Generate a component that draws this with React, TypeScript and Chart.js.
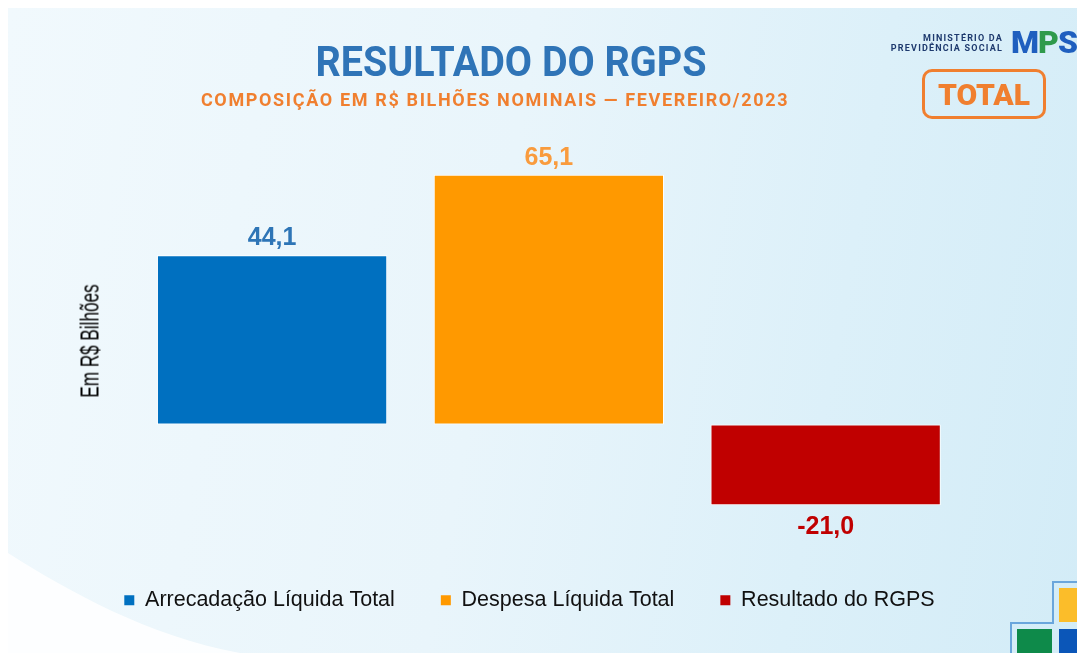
import React, { useEffect, useRef } from "react";
import { Chart, registerables } from "chart.js";

Chart.register(...registerables);

// ---- data ----
const seriesNames = ["Arrecadação Líquida Total", "Despesa Líquida Total", "Resultado do RGPS"];
const seriesValues = [44.1, 65.1, -21.0];
const seriesPositions = [0, 1, 2];
const barColors = ["#0070c0", "#ff9900", "#c00000"];
const labelColors = ["#2e75b6", "#f99b3d", "#c00000"];
const titleText = "RESULTADO DO RGPS";
const subtitleText = "COMPOSIÇÃO EM R$ BILHÕES NOMINAIS — FEVEREIRO/2023";
const yAxisTitle = "Em R$ Bilhões";
const badgeText = "TOTAL";
const logoLines = ["MINISTÉRIO DA", "PREVIDÊNCIA SOCIAL"];

const fmt = (v: number) => v.toFixed(1).replace(".", ",");

const SANS = '"Liberation Sans", Arial, sans-serif';

const valueLabels = {
  id: "valueLabels",
  afterDatasetsDraw(chart: any) {
    const ctx = chart.ctx;
    ctx.save();
    ctx.font = `bold 25px ${SANS}`;
    ctx.textAlign = "center";
    ctx.textBaseline = "alphabetic";
    const meta = chart.getDatasetMeta(0);
    const ds = chart.data.datasets[0];
    meta.data.forEach((el: any, j: number) => {
      const v = ds.data[j].y;
      ctx.fillStyle = labelColors[j];
      const y = v >= 0 ? el.y - 10 : el.y + 29;
      ctx.fillText(fmt(v), el.x, y);
    });
    ctx.restore();
  },
};

export default function App() {
  const canvasRef = useRef<HTMLCanvasElement | null>(null);

  useEffect(() => {
    if (!canvasRef.current) return;
    const chart = new Chart(canvasRef.current, {
      type: "bar",
      data: {
        datasets: [
          {
            label: "RGPS",
            data: seriesValues.map((v, i) => ({ x: seriesPositions[i], y: v })),
            backgroundColor: barColors,
            borderColor: "#ffffff",
            borderWidth: 1,
            borderSkipped: false,
            categoryPercentage: 1,
            barPercentage: 0.832,
          },
        ],
      },
      options: {
        animation: false,
        responsive: false,
        maintainAspectRatio: false,
        layout: { padding: { top: 148, left: 15, right: 41, bottom: 0 } },
        scales: {
          x: {
            type: "linear",
            display: false,
            offset: false,
            min: -0.9,
            max: 2.76,
            ticks: { stepSize: 1, includeBounds: false },
          },
          y: { display: false, min: -31, max: 70 },
        },
        plugins: {
          legend: {
            position: "bottom",
            labels: {
              boxWidth: 10,
              boxHeight: 10,
              padding: 46,
              color: "#111111",
              font: { family: SANS, size: 21.5 },
              generateLabels: () =>
                seriesNames.map((name, i) => ({
                  text: name,
                  fillStyle: barColors[i],
                  strokeStyle: barColors[i],
                  lineWidth: 0,
                  hidden: false,
                  index: i,
                  datasetIndex: 0,
                  fontColor: "#111111",
                })),
            },
          },
          tooltip: { enabled: false },
        },
      } as any,
      plugins: [valueLabels],
    });
    return () => chart.destroy();
  }, []);

  return (
    <div
      style={{
        position: "fixed",
        left: 8,
        top: 8,
        width: 1069,
        height: 645,
        overflow: "hidden",
        background: "linear-gradient(100deg, #f1f9fd 0%, #e9f5fb 45%, #dcf0f9 75%, #d3ecf7 100%)",
      }}
    >
      <svg width={1069} height={645} style={{ position: "absolute", left: 0, top: 0 }}>
        <path d="M0,545 C60,583 140,628 232,645 L0,645 Z" fill="#ffffff" fillOpacity={0.85} />
      </svg>
      <canvas ref={canvasRef} width={1069} height={613} style={{ position: "absolute", left: 0, top: 0 }} />
      <div
        style={{
          position: "absolute",
          left: 203,
          width: 600,
          top: 33,
          textAlign: "center",
          fontFamily: "Roboto, sans-serif",
          fontWeight: 700,
          fontSize: 42,
          lineHeight: "42px",
          color: "#2f74b7",
          whiteSpace: "nowrap",
          transform: "scaleX(0.94)",
        }}
      >
        {titleText}
      </div>
      <div
        style={{
          position: "absolute",
          left: 0,
          width: 974,
          top: 83,
          textAlign: "center",
          fontFamily: "Roboto, sans-serif",
          fontWeight: 700,
          fontSize: 18,
          lineHeight: "18px",
          letterSpacing: 1.65,
          color: "#f07f2f",
          whiteSpace: "nowrap",
        }}
      >
        {subtitleText}
      </div>
      <div
        style={{
          position: "absolute",
          left: 82,
          top: 333,
          transform: "translate(-50%, -50%) rotate(-90deg) scaleX(0.685)",
          fontFamily: SANS,
          fontSize: 25,
          lineHeight: "25px",
          color: "#000000",
          whiteSpace: "nowrap",
        }}
      >
        {yAxisTitle}
      </div>
      <div
        style={{
          position: "absolute",
          right: 74,
          top: 25,
          textAlign: "right",
          fontFamily: "Roboto, sans-serif",
          fontWeight: 700,
          fontSize: 9,
          lineHeight: "10px",
          letterSpacing: 1.2,
          color: "#1e3a6e",
          whiteSpace: "nowrap",
        }}
      >
        <div>{logoLines[0]}</div>
        <div>{logoLines[1]}</div>
      </div>
      <div
        style={{
          position: "absolute",
          left: 1003,
          top: 18,
          fontFamily: "Roboto, sans-serif",
          fontWeight: 900,
          fontSize: 32,
          lineHeight: "32px",
          letterSpacing: -1,
          whiteSpace: "nowrap",
        }}
      >
        <span style={{ color: "#1f5fbf" }}>M</span>
        <span style={{ color: "#2f9a4c" }}>P</span>
        <span style={{ color: "#1f5fbf" }}>S</span>
      </div>
      <div
        style={{
          position: "absolute",
          left: 914,
          top: 61,
          width: 124,
          height: 50,
          boxSizing: "border-box",
          border: "3px solid #f07f2f",
          borderRadius: 10,
          display: "flex",
          alignItems: "center",
          justifyContent: "center",
          fontFamily: "Roboto, sans-serif",
          fontWeight: 900,
          fontSize: 30,
          color: "#f07f2f",
        }}
      >
        {badgeText}
      </div>
      <svg width={1069} height={645} style={{ position: "absolute", left: 0, top: 0, pointerEvents: "none" }}>
        <rect x={1051} y={580} width={20} height={34} fill="#fbbd2a" />
        <rect x={1009} y={621} width={35} height={26} fill="#0e8a4a" />
        <rect x={1051} y={621} width={20} height={26} fill="#0b56b8" />
        <path d="M1071,574 L1045,574 L1045,615 L1003,615 L1003,646" fill="none" stroke="#6aa6dc" strokeWidth={2} />
      </svg>
    </div>
  );
}
